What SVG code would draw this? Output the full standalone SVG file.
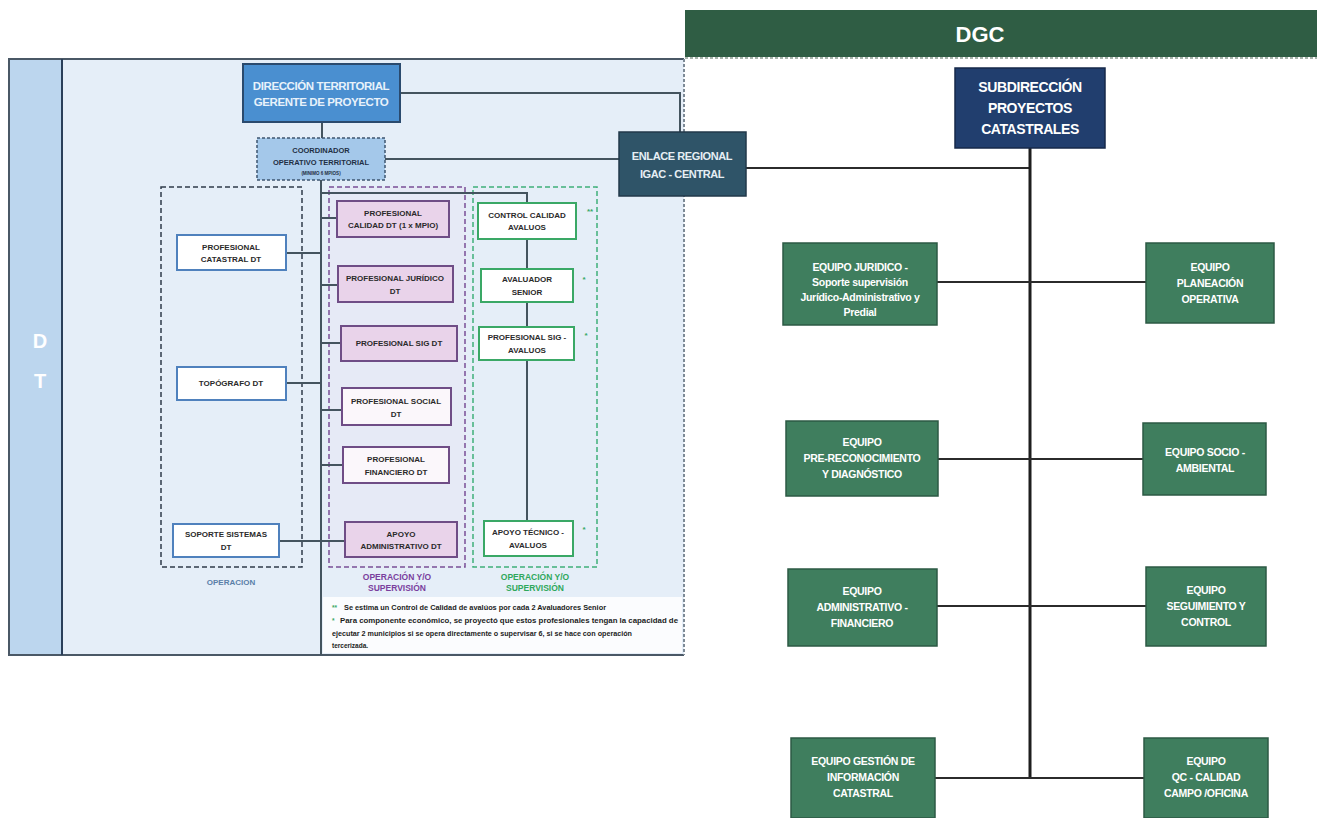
<svg xmlns="http://www.w3.org/2000/svg" width="1317" height="818" viewBox="0 0 1317 818">
  <style>
    text { font-family: "Liberation Sans", Arial, sans-serif; font-weight: bold; text-anchor: middle; }
    text.note { text-anchor: start; font-size: 6.5px; fill: #1c1c1c; }
    text.notemark { text-anchor: start; font-size: 6.5px; fill: #3aa866; }
    .panel { fill: #e5eef8; }
    .conn { stroke: #44545f; stroke-width: 2; fill: none; }
    .connr { stroke: #2b2b2b; stroke-width: 2; fill: none; }
    .op { fill: #ffffff; stroke: #4f81bd; stroke-width: 2; }
    .pu { fill: #e9d3ea; stroke: #6f4d86; stroke-width: 2; }
    .puw { fill: #fbf7fb; stroke: #6f4d86; stroke-width: 2; }
    .gr { fill: #ffffff; stroke: #3aa866; stroke-width: 2; }
    .eq { fill: #3f7e5e; stroke: #2c5a44; stroke-width: 1.5; }
    .small { font-size: 8px; fill: #2a2a2a; }
    .eqt { font-size: 10.5px; fill: #ffffff; letter-spacing: -0.3px; }
    .star { font-size: 8px; fill: #3aa866; }
  </style>

  <!-- DT panel -->
  <g id="dt-panel">
    <rect x="8" y="59" width="676" height="596" class="panel"/>
    <rect x="8" y="59" width="54" height="596" fill="#bcd6ee"/>
    <line x1="8" y1="59" x2="684" y2="59" stroke="#4a5866" stroke-width="2"/>
    <line x1="8" y1="655" x2="684" y2="655" stroke="#4a5866" stroke-width="2"/>
    <line x1="9" y1="59" x2="9" y2="655" stroke="#4a5866" stroke-width="2"/>
    <line x1="62" y1="59" x2="62" y2="655" stroke="#2a3f5a" stroke-width="2"/>
    <line x1="684" y1="59" x2="684" y2="655" stroke="#7d8a96" stroke-width="2" stroke-dasharray="3 2"/>
    <text x="40" y="348" font-size="20" fill="#ffffff">D</text>
    <text x="40" y="388" font-size="20" fill="#ffffff">T</text>
  </g>

  <!-- DGC header -->
  <g id="dgc-header">
    <rect x="685" y="10" width="632" height="47" fill="#2f5d44"/>
    <line x1="685" y1="58" x2="1317" y2="58" stroke="#8a9a90" stroke-width="1.5" stroke-dasharray="3 2"/>
    <text x="980" y="42" font-size="22" fill="#ffffff">DGC</text>
  </g>

  <!-- grouping frames -->
  <g id="grupo-operacion">
    <rect x="161" y="187" width="141" height="380" fill="none" stroke="#2f3b4a" stroke-width="1.5" stroke-dasharray="5 3"/>
    <text x="231" y="585" font-size="8" font-weight="normal" fill="#5a7fa8">OPERACION</text>
  </g>
  <g id="grupo-supervision">
    <rect x="329" y="187" width="136" height="380" fill="#eadff0" fill-opacity="0.25" stroke="#7a4f96" stroke-width="1.5" stroke-dasharray="5 3"/>
    <text x="397" y="580" font-size="8.5" fill="#7a3f9e" font-weight="normal">OPERACIÓN Y/O</text>
    <text x="397" y="591" font-size="8.5" fill="#7a3f9e" font-weight="normal">SUPERVISIÓN</text>
  </g>
  <g id="grupo-avaluos">
    <rect x="473" y="187" width="124" height="380" fill="none" stroke="#3fb07a" stroke-width="1.5" stroke-dasharray="5 3"/>
    <text x="535" y="580" font-size="8.5" fill="#2fa85c" font-weight="normal">OPERACIÓN Y/O</text>
    <text x="535" y="591" font-size="8.5" fill="#2fa85c" font-weight="normal">SUPERVISIÓN</text>
  </g>

  <!-- connectors -->
  <g id="connectors">
    <line x1="322" y1="122" x2="322" y2="138" class="conn"/>
    <polyline points="400,93 680,93 680,132" class="conn"/>
    <line x1="385" y1="159" x2="619" y2="159" class="conn"/>
    <line x1="321" y1="180" x2="321" y2="655" class="conn"/>
    <line x1="286" y1="253" x2="321" y2="253" class="conn"/>
    <line x1="286" y1="383" x2="321" y2="383" class="conn"/>
    <line x1="279" y1="541" x2="345" y2="541" class="conn"/>
    <line x1="321" y1="218" x2="337" y2="218" class="conn"/>
    <line x1="321" y1="285" x2="338" y2="285" class="conn"/>
    <line x1="321" y1="343" x2="341" y2="343" class="conn"/>
    <line x1="321" y1="410" x2="342" y2="410" class="conn"/>
    <line x1="321" y1="465" x2="343" y2="465" class="conn"/>
    <polyline points="321,193 527,193 527,203" class="conn"/>
    <line x1="527" y1="239" x2="527" y2="521" class="conn"/>
    <line x1="746" y1="168" x2="1030" y2="168" class="connr"/>
    <line x1="1030" y1="148" x2="1030" y2="778" stroke="#1e1e1e" stroke-width="3"/>
    <line x1="937" y1="282" x2="1146" y2="282" class="connr"/>
    <line x1="938" y1="459" x2="1143" y2="459" class="connr"/>
    <line x1="937" y1="606" x2="1146" y2="606" class="connr"/>
    <line x1="935" y1="778" x2="1144" y2="778" class="connr"/>
  </g>

  <!-- DT nodes -->
  <g id="direccion-territorial">
    <rect x="243" y="64" width="157" height="58" fill="#4a8fd0" stroke="#2a4a6e" stroke-width="2"/>
    <text x="321" y="90" font-size="11.5" fill="#e8f2fb" letter-spacing="-0.4">DIRECCIÓN TERRITORIAL</text>
    <text x="321" y="106" font-size="11.5" fill="#e8f2fb" letter-spacing="-0.4">GERENTE DE PROYECTO</text>
  </g>
  <g id="coordinador-operativo">
    <rect x="257" y="138" width="128" height="42" fill="#a4c8ea" stroke="#3e5670" stroke-width="1.5" stroke-dasharray="3 2"/>
    <text x="321" y="153" font-size="7.5" fill="#1f2f44">COORDINADOR</text>
    <text x="321" y="165" font-size="7.5" fill="#1f2f44">OPERATIVO TERRITORIAL</text>
    <text x="321" y="175" font-size="4.5" fill="#1f2f44">(MINIMO 6 MPIOS)</text>
  </g>
  <g id="enlace-regional">
    <rect x="619" y="132" width="127" height="64" fill="#2f5468" stroke="#22394a" stroke-width="1.5"/>
    <text x="682" y="160" font-size="11" fill="#e6eef4" letter-spacing="-0.4">ENLACE REGIONAL</text>
    <text x="682" y="178" font-size="11" fill="#e6eef4" letter-spacing="-0.4">IGAC - CENTRAL</text>
  </g>

  <g id="profesional-catastral">
    <rect x="177" y="235" width="109" height="35" class="op"/>
    <text x="231" y="250" class="small">PROFESIONAL</text>
    <text x="231" y="262" class="small">CATASTRAL DT</text>
  </g>
  <g id="topografo">
    <rect x="177" y="367" width="109" height="33" class="op"/>
    <text x="231" y="386" class="small">TOPÓGRAFO DT</text>
  </g>
  <g id="soporte-sistemas">
    <rect x="173" y="524" width="106" height="33" class="op"/>
    <text x="226" y="537" class="small">SOPORTE SISTEMAS</text>
    <text x="226" y="550" class="small">DT</text>
  </g>

  <g id="profesional-calidad">
    <rect x="337" y="201" width="112" height="36" class="pu"/>
    <text x="393" y="216" class="small">PROFESIONAL</text>
    <text x="393" y="228" class="small">CALIDAD DT (1 x MPIO)</text>
  </g>
  <g id="profesional-juridico">
    <rect x="338" y="266" width="115" height="36" class="pu"/>
    <text x="395" y="281" class="small">PROFESIONAL JURÍDICO</text>
    <text x="395" y="294" class="small">DT</text>
  </g>
  <g id="profesional-sig">
    <rect x="341" y="326" width="116" height="35" class="pu"/>
    <text x="399" y="346" class="small">PROFESIONAL SIG DT</text>
  </g>
  <g id="profesional-social">
    <rect x="342" y="388" width="109" height="37" class="puw" stroke="#3b3b55"/>
    <text x="396" y="404" class="small">PROFESIONAL SOCIAL</text>
    <text x="396" y="417" class="small">DT</text>
  </g>
  <g id="profesional-financiero">
    <rect x="343" y="447" width="106" height="36" class="puw"/>
    <text x="396" y="462" class="small">PROFESIONAL</text>
    <text x="396" y="475" class="small">FINANCIERO DT</text>
  </g>
  <g id="apoyo-administrativo">
    <rect x="345" y="522" width="112" height="35" class="pu"/>
    <text x="401" y="537" class="small">APOYO</text>
    <text x="401" y="549" class="small">ADMINISTRATIVO DT</text>
  </g>

  <g id="control-calidad-avaluos">
    <rect x="478" y="203" width="98" height="36" class="gr"/>
    <text x="527" y="218" class="small">CONTROL CALIDAD</text>
    <text x="527" y="230" class="small">AVALUOS</text>
    <text x="590" y="214" class="star">**</text>
  </g>
  <g id="avaluador-senior">
    <rect x="481" y="269" width="92" height="33" class="gr"/>
    <text x="527" y="282" class="small">AVALUADOR</text>
    <text x="527" y="295" class="small">SENIOR</text>
    <text x="584" y="282" class="star">*</text>
  </g>
  <g id="profesional-sig-avaluos">
    <rect x="479" y="327" width="95" height="33" class="gr"/>
    <text x="527" y="340" class="small">PROFESIONAL SIG -</text>
    <text x="527" y="353" class="small">AVALUOS</text>
    <text x="586" y="338" class="star">*</text>
  </g>
  <g id="apoyo-tecnico-avaluos">
    <rect x="484" y="521" width="89" height="35" class="gr"/>
    <text x="528" y="535" class="small">APOYO TÉCNICO -</text>
    <text x="528" y="548" class="small">AVALUOS</text>
    <text x="584" y="532" class="star">*</text>
  </g>

  <g id="notas">
    <rect x="323" y="597" width="359" height="56" fill="#fbfcfe"/>
    <text x="332" y="610" class="notemark">**</text>
    <text x="344" y="610" class="note" textLength="262" lengthAdjust="spacingAndGlyphs">Se estima un Control de Calidad de avalúos por cada 2 Avaluadores Senior</text>
    <text x="332" y="623" class="notemark">*</text>
    <text x="340" y="623" class="note" textLength="338" lengthAdjust="spacingAndGlyphs">Para componente económico, se proyectó que estos profesionales tengan la capacidad de</text>
    <text x="332" y="636" class="note" textLength="300" lengthAdjust="spacingAndGlyphs">ejecutar 2 municipios si se opera directamente o supervisar 6, si se hace con operación</text>
    <text x="332" y="648" class="note">tercerizada.</text>
  </g>

  <!-- DGC nodes -->
  <g id="subdireccion-proyectos">
    <rect x="955" y="68" width="150" height="80" fill="#213e6e" stroke="#16294a" stroke-width="1.5"/>
    <text x="1030" y="92" font-size="14" fill="#ffffff" letter-spacing="-0.4">SUBDIRECCIÓN</text>
    <text x="1030" y="113" font-size="14" fill="#ffffff" letter-spacing="-0.4">PROYECTOS</text>
    <text x="1030" y="134" font-size="14" fill="#ffffff" letter-spacing="-0.4">CATASTRALES</text>
  </g>

  <g id="equipo-juridico">
    <rect x="783" y="243" width="154" height="82" class="eq"/>
    <text x="860" y="271" class="eqt">EQUIPO JURIDICO -</text>
    <text x="860" y="286" class="eqt">Soporte supervisión</text>
    <text x="860" y="301" class="eqt">Jurídico-Administrativo y</text>
    <text x="860" y="316" class="eqt">Predial</text>
  </g>
  <g id="equipo-planeacion">
    <rect x="1146" y="243" width="128" height="80" class="eq"/>
    <text x="1210" y="271" class="eqt">EQUIPO</text>
    <text x="1210" y="287" class="eqt">PLANEACIÓN</text>
    <text x="1210" y="303" class="eqt">OPERATIVA</text>
  </g>
  <g id="equipo-prereconocimiento">
    <rect x="786" y="421" width="152" height="75" class="eq"/>
    <text x="862" y="446" class="eqt">EQUIPO</text>
    <text x="862" y="462" class="eqt">PRE-RECONOCIMIENTO</text>
    <text x="862" y="478" class="eqt">Y DIAGNÓSTICO</text>
  </g>
  <g id="equipo-socio-ambiental">
    <rect x="1143" y="423" width="123" height="72" class="eq"/>
    <text x="1205" y="456" class="eqt">EQUIPO SOCIO -</text>
    <text x="1205" y="472" class="eqt">AMBIENTAL</text>
  </g>
  <g id="equipo-administrativo">
    <rect x="788" y="569" width="149" height="77" class="eq"/>
    <text x="862" y="595" class="eqt">EQUIPO</text>
    <text x="862" y="611" class="eqt">ADMINISTRATIVO -</text>
    <text x="862" y="627" class="eqt">FINANCIERO</text>
  </g>
  <g id="equipo-seguimiento">
    <rect x="1146" y="567" width="120" height="79" class="eq"/>
    <text x="1206" y="594" class="eqt">EQUIPO</text>
    <text x="1206" y="610" class="eqt">SEGUIMIENTO Y</text>
    <text x="1206" y="626" class="eqt">CONTROL</text>
  </g>
  <g id="equipo-gestion-informacion">
    <rect x="791" y="738" width="144" height="80" class="eq"/>
    <text x="863" y="765" class="eqt">EQUIPO GESTIÓN DE</text>
    <text x="863" y="781" class="eqt">INFORMACIÓN</text>
    <text x="863" y="797" class="eqt">CATASTRAL</text>
  </g>
  <g id="equipo-qc">
    <rect x="1144" y="738" width="124" height="80" class="eq"/>
    <text x="1206" y="765" class="eqt">EQUIPO</text>
    <text x="1206" y="781" class="eqt">QC - CALIDAD</text>
    <text x="1206" y="797" class="eqt">CAMPO /OFICINA</text>
  </g>
</svg>
